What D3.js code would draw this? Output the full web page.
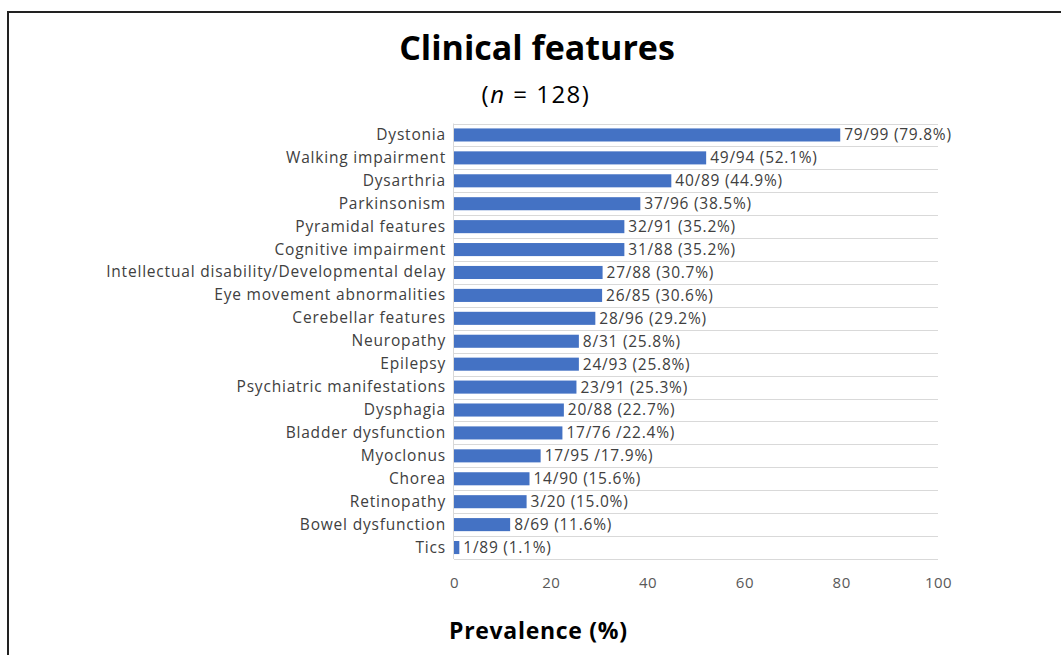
<!DOCTYPE html>
<html><head><meta charset="utf-8">
<script src="https://d3js.org/d3.v7.min.js"></script>
<style>
html,body{margin:0;padding:0;background:#fff;}
svg{display:block;}
</style></head>
<body>
<svg id="chart" width="1061" height="655"></svg>
<script>
const categories = ["Dystonia","Walking impairment","Dysarthria","Parkinsonism","Pyramidal features","Cognitive impairment","Intellectual disability/Developmental delay","Eye movement abnormalities","Cerebellar features","Neuropathy","Epilepsy","Psychiatric manifestations","Dysphagia","Bladder dysfunction","Myoclonus","Chorea","Retinopathy","Bowel dysfunction","Tics"];
const values = [79.8,52.1,44.9,38.5,35.2,35.2,30.7,30.6,29.2,25.8,25.8,25.3,22.7,22.4,17.9,15.6,15.0,11.6,1.1];
const valueLabels = ["79/99 (79.8%)","49/94 (52.1%)","40/89 (44.9%)","37/96 (38.5%)","32/91 (35.2%)","31/88 (35.2%)","27/88 (30.7%)","26/85 (30.6%)","28/96 (29.2%)","8/31 (25.8%)","24/93 (25.8%)","23/91 (25.3%)","20/88 (22.7%)","17/76 /22.4%)","17/95 /17.9%)","14/90 (15.6%)","3/20 (15.0%)","8/69 (11.6%)","1/89 (1.1%)"];
const xTicks = [0,20,40,60,80,100];

const FONT = "'Open Sans', Lato, sans-serif";
const svg = d3.select("#chart");

// frame
svg.append("path").attr("d","M8,655 L8,12 L1061,12").attr("fill","none").attr("stroke","#222").attr("stroke-width",2);

const x = d3.scaleLinear().domain([0,100]).range([454,938]);
const y = d3.scaleBand().domain(categories).range([123.5,559]).paddingInner(0.43).paddingOuter(0.215);

// gridlines at band boundaries
const step = y.step();
const bounds = d3.range(categories.length+1).map(i => 123.5 + i*step);
svg.append("g").selectAll("line").data(bounds).join("line")
  .attr("x1",x(0)).attr("x2",x(100))
  .attr("y1",d=>Math.round(d)+0.5).attr("y2",d=>Math.round(d)+0.5)
  .attr("stroke","#d9d9d9").attr("stroke-width",1);
svg.append("line").attr("x1",x(0)-0.5).attr("x2",x(0)-0.5).attr("y1",123.5).attr("y2",559)
  .attr("stroke","#d9d9d9").attr("stroke-width",1);

// bars
svg.append("g").selectAll("rect").data(categories).join("rect")
  .attr("x",x(0)).attr("y",d=>y(d)).attr("height",y.bandwidth())
  .attr("width",(d,i)=>x(values[i])-x(0)).attr("fill","#4472c4");

// value labels
svg.append("g").selectAll("text").data(categories).join("text")
  .attr("x",(d,i)=>x(values[i])+4).attr("y",d=>y(d)+y.bandwidth()/2)
  .attr("dy","0.35em").attr("font-family",FONT).attr("font-size",15.5).attr("letter-spacing",0.75)
  .attr("fill","#404040").text((d,i)=>valueLabels[i]);

// category axis
const yAxis = d3.axisLeft(y).tickSize(0).tickPadding(8);
const ga = svg.append("g").attr("transform",`translate(${x(0)},0)`).call(yAxis);
ga.select(".domain").remove();
ga.selectAll("text").attr("font-family",FONT).attr("font-size",15.5).attr("letter-spacing",0.8).attr("fill","#404040");

// x axis
const xAxis = d3.axisBottom(x).tickValues(xTicks).tickSize(0).tickPadding(18);
const gx = svg.append("g").attr("transform","translate(0,559)").call(xAxis);
gx.select(".domain").remove();
gx.selectAll("text").attr("font-family",FONT).attr("font-size",15).attr("letter-spacing",0.5).attr("fill","#595959");

// titles
svg.append("text").attr("x",537).attr("y",60).attr("text-anchor","middle")
  .attr("font-family",FONT).attr("font-weight","bold").attr("font-size",34).attr("fill","#000")
  .text("Clinical features");
const sub = svg.append("text").attr("x",536).attr("y",103).attr("text-anchor","middle")
  .attr("font-family",FONT).attr("font-size",24).attr("letter-spacing",1.5).attr("fill","#000");
sub.append("tspan").text("(");
sub.append("tspan").attr("font-style","italic").text("n");
sub.append("tspan").text(" = 128)");
svg.append("text").attr("x",449).attr("y",639)
  .attr("font-family",FONT).attr("font-weight","bold").attr("font-size",23).attr("letter-spacing",0.7).attr("fill","#000")
  .text("Prevalence (%)");
</script>
</body></html>
